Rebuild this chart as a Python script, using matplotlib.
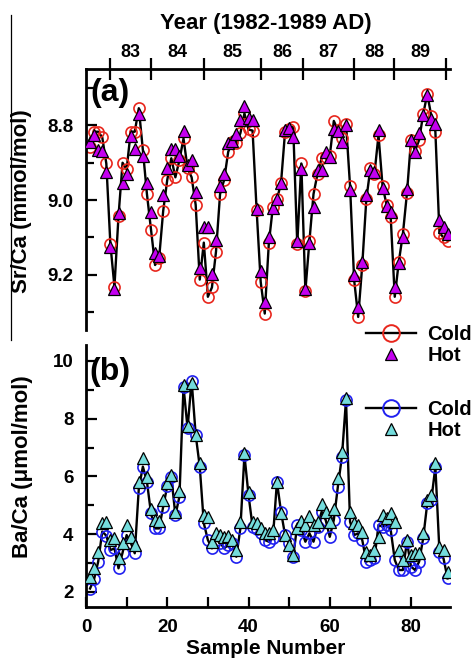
import matplotlib
matplotlib.use("Agg")
import matplotlib.pyplot as plt
from matplotlib.lines import Line2D
from matplotlib.ticker import MultipleLocator
import numpy as np

plt.rcParams["font.family"] = ["Liberation Sans", "DejaVu Sans"]
plt.rcParams["font.weight"] = "bold"

# Sr/Ca (mmol/mol) per sample, cold and hot season measurements
sr_cold = [8.857, 8.817, 8.817, 8.832, 8.902, 9.118, 9.232, 9.043, 8.900, 8.918,
           8.817, 8.817, 8.754, 8.866, 8.984, 9.079, 9.174, 9.156, 9.029, 8.946,
           8.888, 8.939, 8.893, 8.835, 8.915, 8.939, 9.013, 9.213, 9.114, 9.259,
           9.234, 9.138, 8.984, 8.946, 8.871, 8.844, 8.848, 8.821, 8.768, 8.811,
           8.814, 9.027, 9.219, 9.304, 9.116, 9.018, 8.998, 8.955, 8.817, 8.811,
           8.804, 9.118, 8.902, 9.243, 9.109, 8.984, 8.929, 8.888, 8.884, 8.882,
           8.788, 8.813, 8.835, 8.795, 8.963, 9.214, 9.313, 9.174, 8.998, 8.915,
           8.930, 8.826, 8.963, 9.013, 9.045, 9.259, 9.165, 9.091, 8.982, 8.839,
           8.868, 8.839, 8.770, 8.716, 8.775, 8.817, 9.088, 9.100, 9.109]
sr_hot = [8.844, 8.826, 8.866, 8.868, 8.924, 9.125, 9.237, 9.034, 8.955, 8.930,
          8.829, 8.864, 8.770, 8.882, 8.955, 9.031, 9.143, 9.150, 8.987, 8.913,
          8.862, 8.862, 8.882, 8.814, 8.906, 8.893, 8.978, 9.183, 9.071, 9.071,
          9.198, 9.107, 8.963, 8.930, 8.848, 8.841, 8.823, 8.786, 8.748, 8.781,
          8.786, 9.025, 9.189, 9.272, 9.098, 9.022, 8.996, 8.955, 8.813, 8.808,
          8.830, 9.109, 8.918, 9.239, 9.116, 9.018, 8.920, 8.920, 8.871, 8.886,
          8.811, 8.814, 8.844, 8.799, 8.973, 9.201, 9.286, 9.165, 8.987, 8.920,
          8.924, 8.813, 8.969, 9.016, 9.031, 9.232, 9.168, 9.098, 8.971, 8.839,
          8.871, 8.821, 8.772, 8.719, 8.784, 8.796, 9.054, 9.071, 9.091]

# Ba/Ca (umol/mol) per sample
ba_cold = [2.12, 2.45, 3.05, 4.09, 3.95, 3.45, 3.51, 2.82, 3.36, 3.97,
           3.71, 3.34, 5.59, 6.34, 5.82, 4.72, 4.20, 4.20, 4.95, 5.67,
           5.99, 4.66, 5.30, 9.11, 7.67, 9.32, 7.44, 6.34, 4.38, 3.80,
           3.51, 3.80, 3.71, 3.51, 3.63, 3.68, 3.22, 4.20, 6.74, 5.36,
           4.26, 4.17, 4.03, 3.80, 3.74, 3.86, 5.82, 4.78, 3.97, 3.68,
           3.22, 4.32, 4.15, 3.74, 4.03, 3.74, 4.26, 4.78, 4.49, 3.91,
           4.49, 5.65, 6.69, 8.65, 4.43, 3.97, 4.03, 3.80, 3.05, 3.11,
           3.16, 4.32, 4.26, 4.32, 4.15, 3.11, 2.76, 2.76, 3.74, 2.88,
           2.76, 3.05, 3.86, 5.07, 5.18, 6.34, 3.40, 3.16, 2.47]
ba_hot = [2.51, 2.82, 3.39, 4.40, 4.41, 3.80, 3.86, 3.16, 3.68, 4.32,
          3.91, 3.63, 5.82, 6.63, 5.99, 4.86, 4.49, 4.47, 5.18, 5.76,
          6.05, 4.78, 5.51, 9.17, 7.73, 9.23, 7.44, 6.46, 4.66, 4.61,
          3.74, 4.03, 3.97, 3.91, 3.94, 3.80, 3.45, 4.43, 6.80, 5.47,
          4.43, 4.38, 4.20, 4.03, 4.03, 4.15, 5.82, 4.75, 3.97, 3.63,
          3.28, 4.20, 4.47, 4.32, 4.63, 4.32, 4.43, 5.05, 4.78, 4.43,
          4.86, 5.94, 6.86, 8.71, 4.78, 4.38, 4.32, 4.09, 3.39, 3.28,
          3.45, 3.91, 4.66, 4.55, 4.72, 4.43, 3.45, 3.11, 3.80, 3.28,
          3.34, 3.34, 4.03, 5.18, 5.36, 6.46, 3.57, 3.45, 2.70]

# sample numbers where each new year starts, and the year names between them
year_edges = [5.9, 16.0, 29.0, 43.1, 53.4, 66.0, 75.8, 88.6]
year_labels = ["83", "84", "85", "86", "87", "88", "89"]

samples = np.arange(1, len(sr_cold) + 1)

W, H = 474, 663
fig = plt.figure(figsize=(W / 100, H / 100), dpi=100)
ax_a = fig.add_axes([86 / W, 1 - 330 / H, 363.6 / W, 261 / H])
ax_b = fig.add_axes([86 / W, 1 - 607 / H, 363.6 / W, 262 / H])

SPINE_W = 2.0


def draw_panel(ax, cold, hot, c_edge, h_face):
    ax.plot(samples, cold, color="black", lw=1.7, zorder=2,
            marker="o", ms=8, mfc="none", mec=c_edge, mew=1.2)
    ax.plot(samples, hot, ls="none", marker="^", ms=8,
            mfc=h_face, mec="black", mew=0.9, zorder=3)
    ax.set_xlim(0, 89.5)


draw_panel(ax_a, sr_cold, sr_hot, "#e8261c", "#c400f0")
draw_panel(ax_b, ba_cold, ba_hot, "#2020f0", "#74dcdc")

# (a) Sr/Ca, inverted axis, year scale on top
ax_a.set_ylim(9.348, 8.649)
ax_a.yaxis.set_minor_locator(MultipleLocator(0.1))
ax_a.set_yticks([8.8, 9.0, 9.2])
ax_a.set_yticklabels(["8.8", "9.0", "9.2"])
for s in ["bottom", "right"]:
    ax_a.spines[s].set_visible(False)
for s in ["top", "left"]:
    ax_a.spines[s].set_linewidth(SPINE_W)
ax_a.xaxis.set_ticks_position("top")
ax_a.set_xticks(year_edges)
ax_a.set_xticklabels([])
mids = [(a + b) / 2 for a, b in zip(year_edges[:-1], year_edges[1:])]
ax_a.set_xticks(mids, minor=True)
ax_a.set_xticklabels(year_labels, minor=True)
ax_a.tick_params(axis="x", which="major", direction="inout", length=16, width=1.6)
ax_a.tick_params(axis="x", which="minor", length=0, labelsize=13, pad=6)

# (b) Ba/Ca
ax_b.set_ylim(1.48, 10.55)
ax_b.yaxis.set_major_locator(MultipleLocator(2))
ax_b.yaxis.set_minor_locator(MultipleLocator(1))
for s in ["top", "right"]:
    ax_b.spines[s].set_visible(False)
for s in ["bottom", "left"]:
    ax_b.spines[s].set_linewidth(SPINE_W)
ax_b.set_xticks([0, 20, 40, 60, 80])
ax_b.xaxis.set_minor_locator(MultipleLocator(10))
ax_b.tick_params(axis="x", which="both", direction="in", length=7, width=1.6,
                 labelsize=13.5, pad=9)

for ax in (ax_a, ax_b):
    ax.tick_params(axis="y", which="major", direction="in", length=8, width=1.6,
                   labelsize=13.5, pad=9)
    ax.tick_params(axis="y", which="minor", direction="in", length=6, width=1.6)

ax_a.text(0.012, 0.965, "(a)", transform=ax_a.transAxes, fontsize=23,
          ha="left", va="top")
ax_b.text(0.01, 0.955, "(b)", transform=ax_b.transAxes, fontsize=23,
          ha="left", va="top")

fig.text(0.561, 1 - 23 / H, "Year (1982-1989 AD)", ha="center", va="center",
         fontsize=16)
fig.text(22 / W, 1 - 201 / H, "Sr/Ca (mmol/mol)", rotation=90, ha="center",
         va="center", fontsize=16)
fig.text(23 / W, 1 - 467 / H, "Ba/Ca (\u03bcmol/mol)", rotation=90, ha="center",
         va="center", fontsize=16)
fig.text(0.561, 1 - 648 / H, "Sample Number", ha="center", va="center",
         fontsize=15)


def legend_at(y_top, c_edge, h_face):
    handles = [
        Line2D([], [], color="black", lw=1.7, marker="o", ms=12, mfc="none",
               mec=c_edge, mew=1.4),
        Line2D([], [], ls="none", marker="^", ms=8.5, mfc=h_face, mec="black",
               mew=0.9),
    ]
    fig.legend(handles, ["Cold", "Hot"], loc="upper left",
               bbox_to_anchor=(366 / W, 1 - y_top / H), frameon=False,
               fontsize=14.5, handlelength=2.5, handletextpad=0.55,
               labelspacing=0.12, borderpad=0, borderaxespad=0)


legend_at(325, "#e8261c", "#c400f0")
legend_at(400, "#2020f0", "#74dcdc")

# thin rule down the left margin
fig.add_artist(Line2D([11 / W, 11 / W], [1 - 15 / H, 1 - 340 / H],
                      color="black", lw=0.9))

fig.savefig("out.png", dpi=100)
